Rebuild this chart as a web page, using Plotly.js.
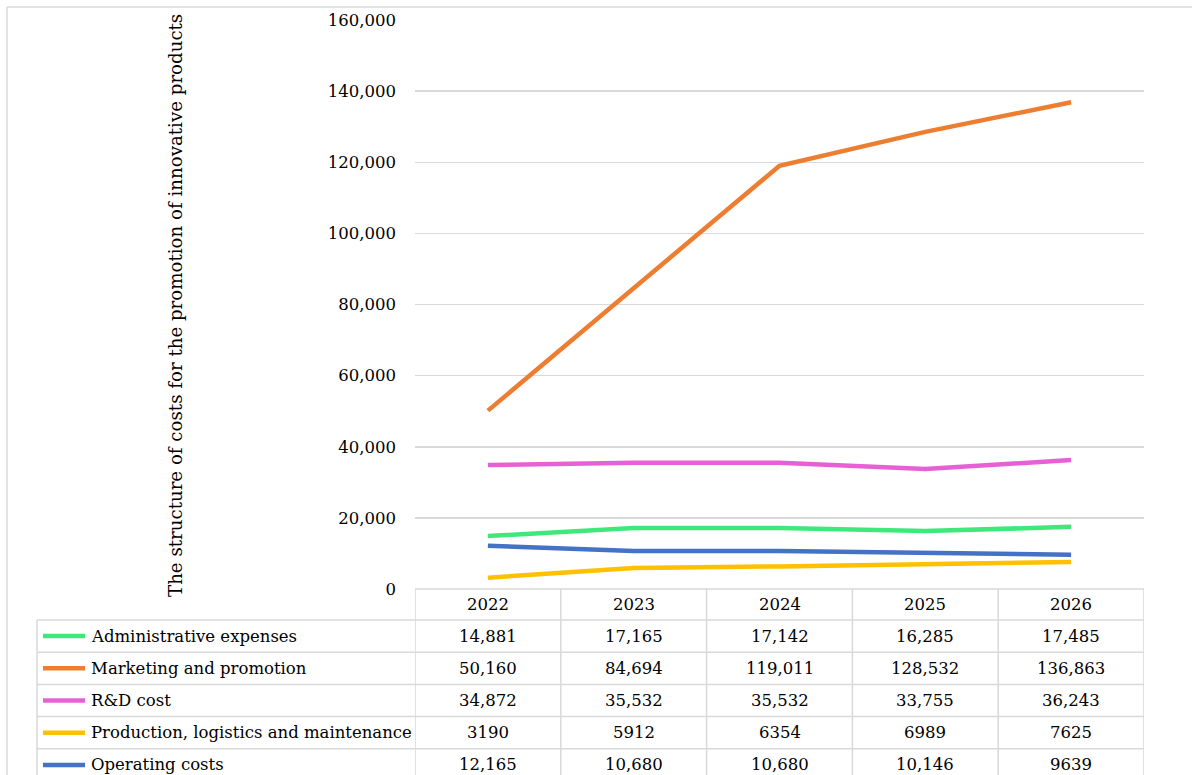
<!DOCTYPE html>
<html>
<head>
<meta charset="utf-8">
<script src="https://cdn.plot.ly/plotly-3.0.1.min.js"></script>
<style>
  html, body { margin: 0; padding: 0; background: #ffffff; }
  #chart { width: 1192px; height: 775px; }
</style>
</head>
<body>
<div id="chart"></div>
<script>
// ---- data ----
const years = ["2022", "2023", "2024", "2025", "2026"];
const seriesNames = [
  "Administrative expenses",
  "Marketing and promotion",
  "R&D cost",
  "Production, logistics and maintenance",
  "Operating costs"
];
const adminExpenses = [14881, 17165, 17142, 16285, 17485];
const marketingPromotion = [50160, 84694, 119011, 128532, 136863];
const rdCost = [34872, 35532, 35532, 33755, 36243];
const productionLogistics = [3190, 5912, 6354, 6989, 7625];
const operatingCosts = [12165, 10680, 10680, 10146, 9639];
const yTitle = "The structure of costs for the promotion of innovative products";

const seriesValues = [adminExpenses, marketingPromotion, rdCost, productionLogistics, operatingCosts];
const seriesColors = ["#3EE87B", "#ED7D31", "#E860D6", "#FFC000", "#4472C4"];

// ---- layout geometry (pixels) ----
const W = 1192, H = 775;
const L = 415, R = 1144, T = 20, B = 589;
const PW = R - L, PH = B - T;
function px(x) { return (x - L) / PW; }
function py(y) { return (B - y) / PH; }

const FONT = "DejaVu Serif, Liberation Serif, serif";
const FS = 16.5;
const GRID = "#d9d9d9";

const headerTop = 589, headerBottom = 620, rowH = 32.2;
function rowTop(i) { return headerBottom + i * rowH; }
function rowMid(i) { return rowTop(i) + rowH / 2; }

function fmt(v) { return v >= 10000 ? v.toLocaleString("en-US") : String(v); }

const traces = seriesValues.map((vals, i) => ({
  type: "scatter",
  mode: "lines",
  x: years,
  y: vals,
  name: seriesNames[i],
  line: { color: seriesColors[i], width: 4.5 },
  hoverinfo: "x+y+name"
}));

const shapes = [];
const annotations = [];
const lineStyle = { color: GRID, width: 1.5 };

// outer frame
shapes.push({ type: "line", xref: "paper", yref: "paper", x0: px(7), x1: px(W + 10), y0: py(7), y1: py(7), line: lineStyle, layer: "below" });
shapes.push({ type: "line", xref: "paper", yref: "paper", x0: px(7), x1: px(7), y0: py(7), y1: py(H + 10), line: lineStyle, layer: "below" });

// table header top line
shapes.push({ type: "line", xref: "paper", yref: "paper", x0: 0, x1: 1, y0: py(headerTop), y1: py(headerTop), line: lineStyle });
// row lines
for (let i = 0; i <= seriesNames.length; i++) {
  shapes.push({ type: "line", xref: "paper", yref: "paper", x0: px(37), x1: 1, y0: py(rowTop(i)), y1: py(rowTop(i)), line: lineStyle });
}
// left table border
shapes.push({ type: "line", xref: "paper", yref: "paper", x0: px(37), x1: px(37), y0: py(headerBottom), y1: py(H + 10), line: lineStyle });
// column boundaries along category axis
for (let i = 0; i <= years.length; i++) {
  shapes.push({ type: "line", xref: "x", yref: "paper", x0: i - 0.5, x1: i - 0.5, y0: py(headerTop), y1: py(H + 10), line: lineStyle });
}

// header labels (category index positions on the x axis)
years.forEach((yr, j) => {
  annotations.push({ xref: "x", yref: "paper", x: j, y: py((headerTop + headerBottom) / 2), text: yr, showarrow: false, xanchor: "center", yanchor: "middle", font: { family: FONT, size: FS, color: "#000" } });
});

// rows
seriesNames.forEach((nm, i) => {
  const ym = py(rowMid(i));
  shapes.push({ type: "line", xref: "paper", yref: "paper", x0: px(43), x1: px(85), y0: ym, y1: ym, line: { color: seriesColors[i], width: 4.5 } });
  annotations.push({ xref: "paper", yref: "paper", x: px(89), y: ym, text: nm.replace("&", "&amp;"), showarrow: false, xanchor: "left", yanchor: "middle", font: { family: FONT, size: FS, color: "#000" } });
  seriesValues[i].forEach((v, j) => {
    annotations.push({ xref: "x", yref: "paper", x: j, y: ym, text: fmt(v), showarrow: false, xanchor: "center", yanchor: "middle", font: { family: FONT, size: FS, color: "#000" } });
  });
});

// y-axis title
annotations.push({ xref: "paper", yref: "paper", x: px(176), y: py(306), text: yTitle, textangle: -90, showarrow: false, xanchor: "center", yanchor: "middle", font: { family: FONT, size: 18.2, color: "#000" } });

const layout = {
  width: W,
  height: H,
  margin: { l: L, r: W - R, t: T, b: H - B, pad: 0 },
  paper_bgcolor: "#ffffff",
  plot_bgcolor: "#ffffff",
  showlegend: false,
  font: { family: FONT, size: FS, color: "#000" },
  xaxis: {
    type: "category",
    range: [-0.5, years.length - 0.5],
    showticklabels: false,
    showgrid: false,
    zeroline: false,
    showline: false,
    ticks: ""
  },
  yaxis: {
    range: [0, 160000],
    dtick: 20000,
    tickformat: ",",
    showgrid: true,
    gridcolor: GRID,
    gridwidth: 1.5,
    zeroline: false,
    showline: false,
    ticks: "",
    ticklabelstandoff: 18,
    tickfont: { family: FONT, size: FS, color: "#000" }
  },
  shapes: shapes,
  annotations: annotations
};

Plotly.newPlot("chart", traces, layout, { displayModeBar: false, staticPlot: true });
</script>
</body>
</html>
